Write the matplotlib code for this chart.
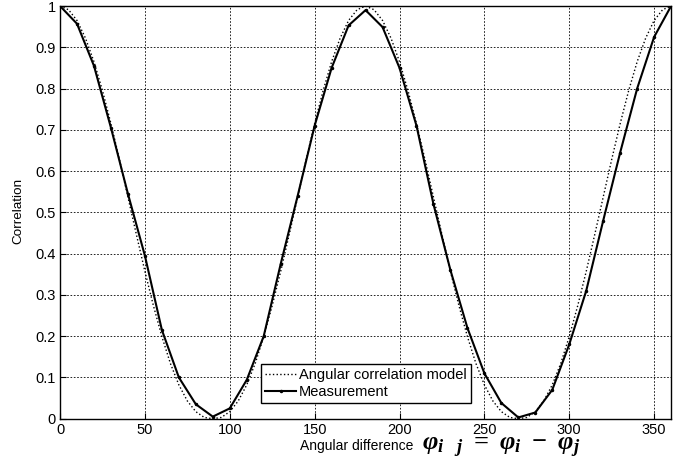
import numpy as np
from matplotlib import pyplot as plt
import matplotlib

matplotlib.rcParams['font.family'] = ['Liberation Sans', 'DejaVu Sans']
matplotlib.rcParams['mathtext.fontset'] = 'custom'
matplotlib.rcParams['mathtext.it'] = 'Liberation Serif:italic:bold'
matplotlib.rcParams['mathtext.rm'] = 'Liberation Serif:bold'

# model curve read every 5 degrees
model_angle = list(range(0, 365, 5))
model_corr = [1.000, 0.991, 0.965, 0.922, 0.865, 0.795, 0.715, 0.628, 0.537, 0.446,
              0.357, 0.274, 0.199, 0.134, 0.082, 0.043, 0.017, 0.003, 0.000,
              0.003, 0.017, 0.043, 0.082, 0.134, 0.199, 0.274, 0.357, 0.446,
              0.537, 0.628, 0.715, 0.795, 0.865, 0.922, 0.965, 0.991, 1.000,
              0.991, 0.965, 0.922, 0.865, 0.795, 0.715, 0.628, 0.537, 0.446,
              0.357, 0.274, 0.199, 0.134, 0.082, 0.043, 0.017, 0.003, 0.000,
              0.003, 0.017, 0.043, 0.082, 0.134, 0.199, 0.274, 0.357, 0.446,
              0.537, 0.628, 0.715, 0.795, 0.865, 0.922, 0.965, 0.991, 1.000]

# measurement every 10 degrees
meas_angle = list(range(0, 370, 10))
meas_corr = [1.000, 0.957, 0.855, 0.705, 0.545, 0.395, 0.215, 0.100, 0.035, 0.005,
             0.025, 0.094, 0.200, 0.375, 0.540, 0.710, 0.850, 0.953, 0.990,
             0.949, 0.850, 0.710, 0.520, 0.360, 0.220, 0.110, 0.038, 0.003,
             0.015, 0.070, 0.180, 0.310, 0.480, 0.645, 0.800, 0.925, 1.000]

xticks = [0, 50, 100, 150, 200, 250, 300, 350]
yticks = [0, 0.1, 0.2, 0.3, 0.4, 0.5, 0.6, 0.7, 0.8, 0.9, 1]
ytick_labels = ['0', '0.1', '0.2', '0.3', '0.4', '0.5', '0.6', '0.7', '0.8', '0.9', '1']

fig = plt.figure(figsize=(6.94, 4.63), dpi=100)
ax = fig.add_axes([0.0865, 0.0957, 0.8805, 0.8913])

ax.plot(model_angle, model_corr, 'k:', linewidth=1.0, label='Angular correlation model')
ax.plot(meas_angle, meas_corr, 'k-', linewidth=1.5, marker='.', markersize=3,
        label='Measurement')

ax.set_xlim(0, 360)
ax.set_ylim(0, 1)
ax.set_xticks(xticks)
ax.set_yticks(yticks)
ax.set_yticklabels(ytick_labels)
ax.tick_params(direction='in', labelsize=10.5, length=4, width=0.8, pad=3)
ax.grid(True, color='k', linestyle=(0, (2, 2)), linewidth=0.6)
for s in ax.spines.values():
    s.set_linewidth(1.0)

leg = ax.legend(loc='lower left', bbox_to_anchor=(0.329, 0.037), fontsize=10.5,
                frameon=True, fancybox=False, edgecolor='k', framealpha=1,
                handlelength=2.1, handletextpad=0.2, borderpad=0.3,
                labelspacing=0.2, borderaxespad=0)
leg.get_frame().set_linewidth(1.0)

fig.text(0.026, 0.545, 'Correlation', rotation=90, ha='center', va='center', fontsize=9.7)
fig.text(0.595, 0.027, 'Angular difference', ha='right', va='baseline', fontsize=10)
fig.text(0.608, 0.027, r'$\varphi_{i\ \ \ j}\ =\ \varphi_i\ -\ \varphi_j$', ha='left',
         va='baseline', fontsize=19)

plt.savefig('out.png', dpi=100)
